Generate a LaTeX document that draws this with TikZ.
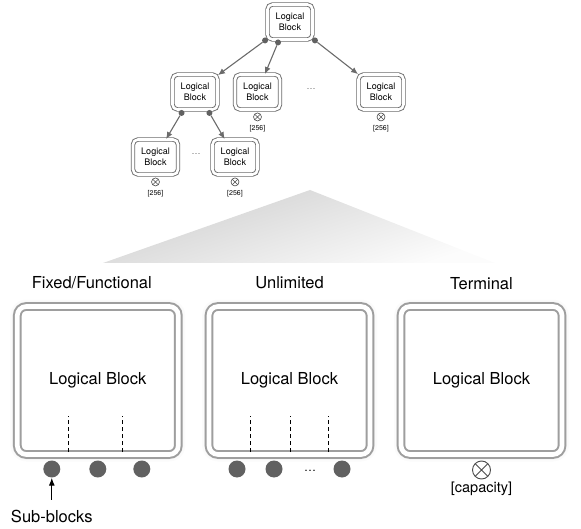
\documentclass[tikz,border=0pt]{standalone}
\usepackage{fontspec}
\setmainfont{TeX Gyre Heros}
\usetikzlibrary{arrows.meta,shadows.blur,positioning}
\colorlet{boxgray}{black!38}
\colorlet{treegray}{black!58}
\colorlet{portgray}{black!62}

\begin{document}
\begin{tikzpicture}[x=1pt,y=-1pt]
\tikzset{SmallBlock/.style={draw=treegray, double=white, double distance=2.6pt, line width=0.9pt, rounded corners=5pt, minimum width=45pt, minimum height=35pt, inner sep=0pt, align=center, font=\fontsize{9}{11}\selectfont}}
\tikzset{BigBlock/.style={draw=boxgray, fill=white, double=white, double distance=4.7pt, line width=2pt, rounded corners=9pt, minimum width=161pt, minimum height=148pt, font=\fontsize{16.5}{20}\selectfont, blur shadow={shadow xshift=0pt, shadow yshift=0pt, shadow blur radius=7pt, shadow opacity=25}}}
\tikzset{TreeEdge/.style={-{Latex[length=7pt,width=6pt]}, color=treegray, line width=1.1pt}}
\tikzset{Port/.style={circle, fill=portgray, inner sep=0pt, minimum size=#1}, Port/.default=6pt}
\tikzset{Cap/.style={circle, draw=black!70, inner sep=0pt, minimum size=#1, path picture={\draw (path picture bounding box.south west) -- (path picture bounding box.north east) (path picture bounding box.north west) -- (path picture bounding box.south east);}}, Cap/.default=8pt}
\tikzset{Divider/.style={dash pattern=on 4pt off 3pt, line width=1pt}}
\tikzset{Title/.style={font=\fontsize{16.5}{20}\selectfont}}
\tikzset{Count/.style={font=\fontsize{7}{8}\selectfont, inner sep=0pt}}
\useasboundingbox (0,0) rectangle (581,529);

% tree of logical blocks
\node[SmallBlock] (root) at (290,22) {Logical\\Block};
\node[SmallBlock] (A) at (195,92) {Logical\\Block};
\node[SmallBlock] (B) at (257.5,92) {Logical\\Block};
\node[SmallBlock] (C) at (381,92) {Logical\\Block};
\node[SmallBlock] (D) at (155.5,157) {Logical\\Block};
\node[SmallBlock] (E) at (235,157) {Logical\\Block};
\node[font=\fontsize{9}{11}\selectfont, text=black!60] (dotsBC) at (311,89) {\dots};
\node[font=\fontsize{9}{11}\selectfont, text=black!60] (dotsDE) at (196,154) {\dots};

\node[Port] (r1) at ([xshift=-2pt,yshift=-0.5pt]root.south west) {};
\node[Port] (r2) at ([xshift=11pt,yshift=-2.5pt]root.south west) {};
\node[Port] (r3) at ([xshift=2pt,yshift=-0.5pt]root.south east) {};
\node[Port] (a1) at ([xshift=9.5pt,yshift=-3pt]A.south west) {};
\node[Port] (a2) at ([xshift=-8.5pt,yshift=-3pt]A.south east) {};

\draw[TreeEdge] (r1) -- (A);
\draw[TreeEdge] (r2) -- (B);
\draw[TreeEdge] (r3) -- (C);
\draw[TreeEdge] (a1) -- (D);
\draw[TreeEdge] (a2) -- (E);

\foreach \n in {B,C,D,E} {
  \node[Cap, line width=0.6pt] (cap\n) at ([yshift=-7pt]\n.south) {};
  \node[Count] (cnt\n) at ([yshift=-18.7pt]\n.south) {[256]};
}

% zoom wedge
\shade[top color=black!19, bottom color=black!1, shading angle=18] (310,190) -- (495,263) -- (103,263) -- cycle;

% block kinds
\node[BigBlock] (F) at (97.8,380.5) {Logical Block};
\node[BigBlock] (U) at (289.5,380.5) {Logical Block};
\node[BigBlock] (T) at (481.5,380.5) {Logical Block};
\node[Title] (tF) at ([xshift=-6pt,yshift=22.5pt]F.north) {Fixed/Functional};
\node[Title] (tU) at ([yshift=22.5pt]U.north) {Unlimited};
\node[Title] (tT) at ([yshift=22pt]T.north) {Terminal};

\foreach \dx in {-29,25} \draw[Divider] ([xshift=\dx pt,yshift=3.3pt]F.south) -- ++(0,-36);
\foreach \dx in {-39.5,0.5,38.5} \draw[Divider] ([xshift=\dx pt,yshift=3.3pt]U.south) -- ++(0,-36);

\foreach \dx/\nm in {-46/f1,0/f2,44/f3} \node[Port=17pt] (\nm) at ([xshift=\dx pt,yshift=-13.5pt]F.south) {};
\foreach \dx/\nm in {-52.5/u1,-15.5/u2,52.5/u3} \node[Port=17pt] (\nm) at ([xshift=\dx pt,yshift=-13.5pt]U.south) {};
\node[font=\fontsize{12}{14}\selectfont] (udots) at ([xshift=20.5pt,yshift=-15pt]U.south) {\dots};

\node[Cap=18pt, line width=0.9pt] (tcap) at ([yshift=-14.5pt]T.south) {};
\node[font=\fontsize{14.5}{17}\selectfont, inner sep=0pt] (tcnt) at ([yshift=-33.5pt]T.south) {[capacity]};

\node[Title, below=29pt of f1] (sub) {Sub-blocks};
\draw[-{Latex[length=8pt,width=6pt]}, line width=1.1pt, shorten <=7pt] (sub) -- (f1);
\end{tikzpicture}
\end{document}
